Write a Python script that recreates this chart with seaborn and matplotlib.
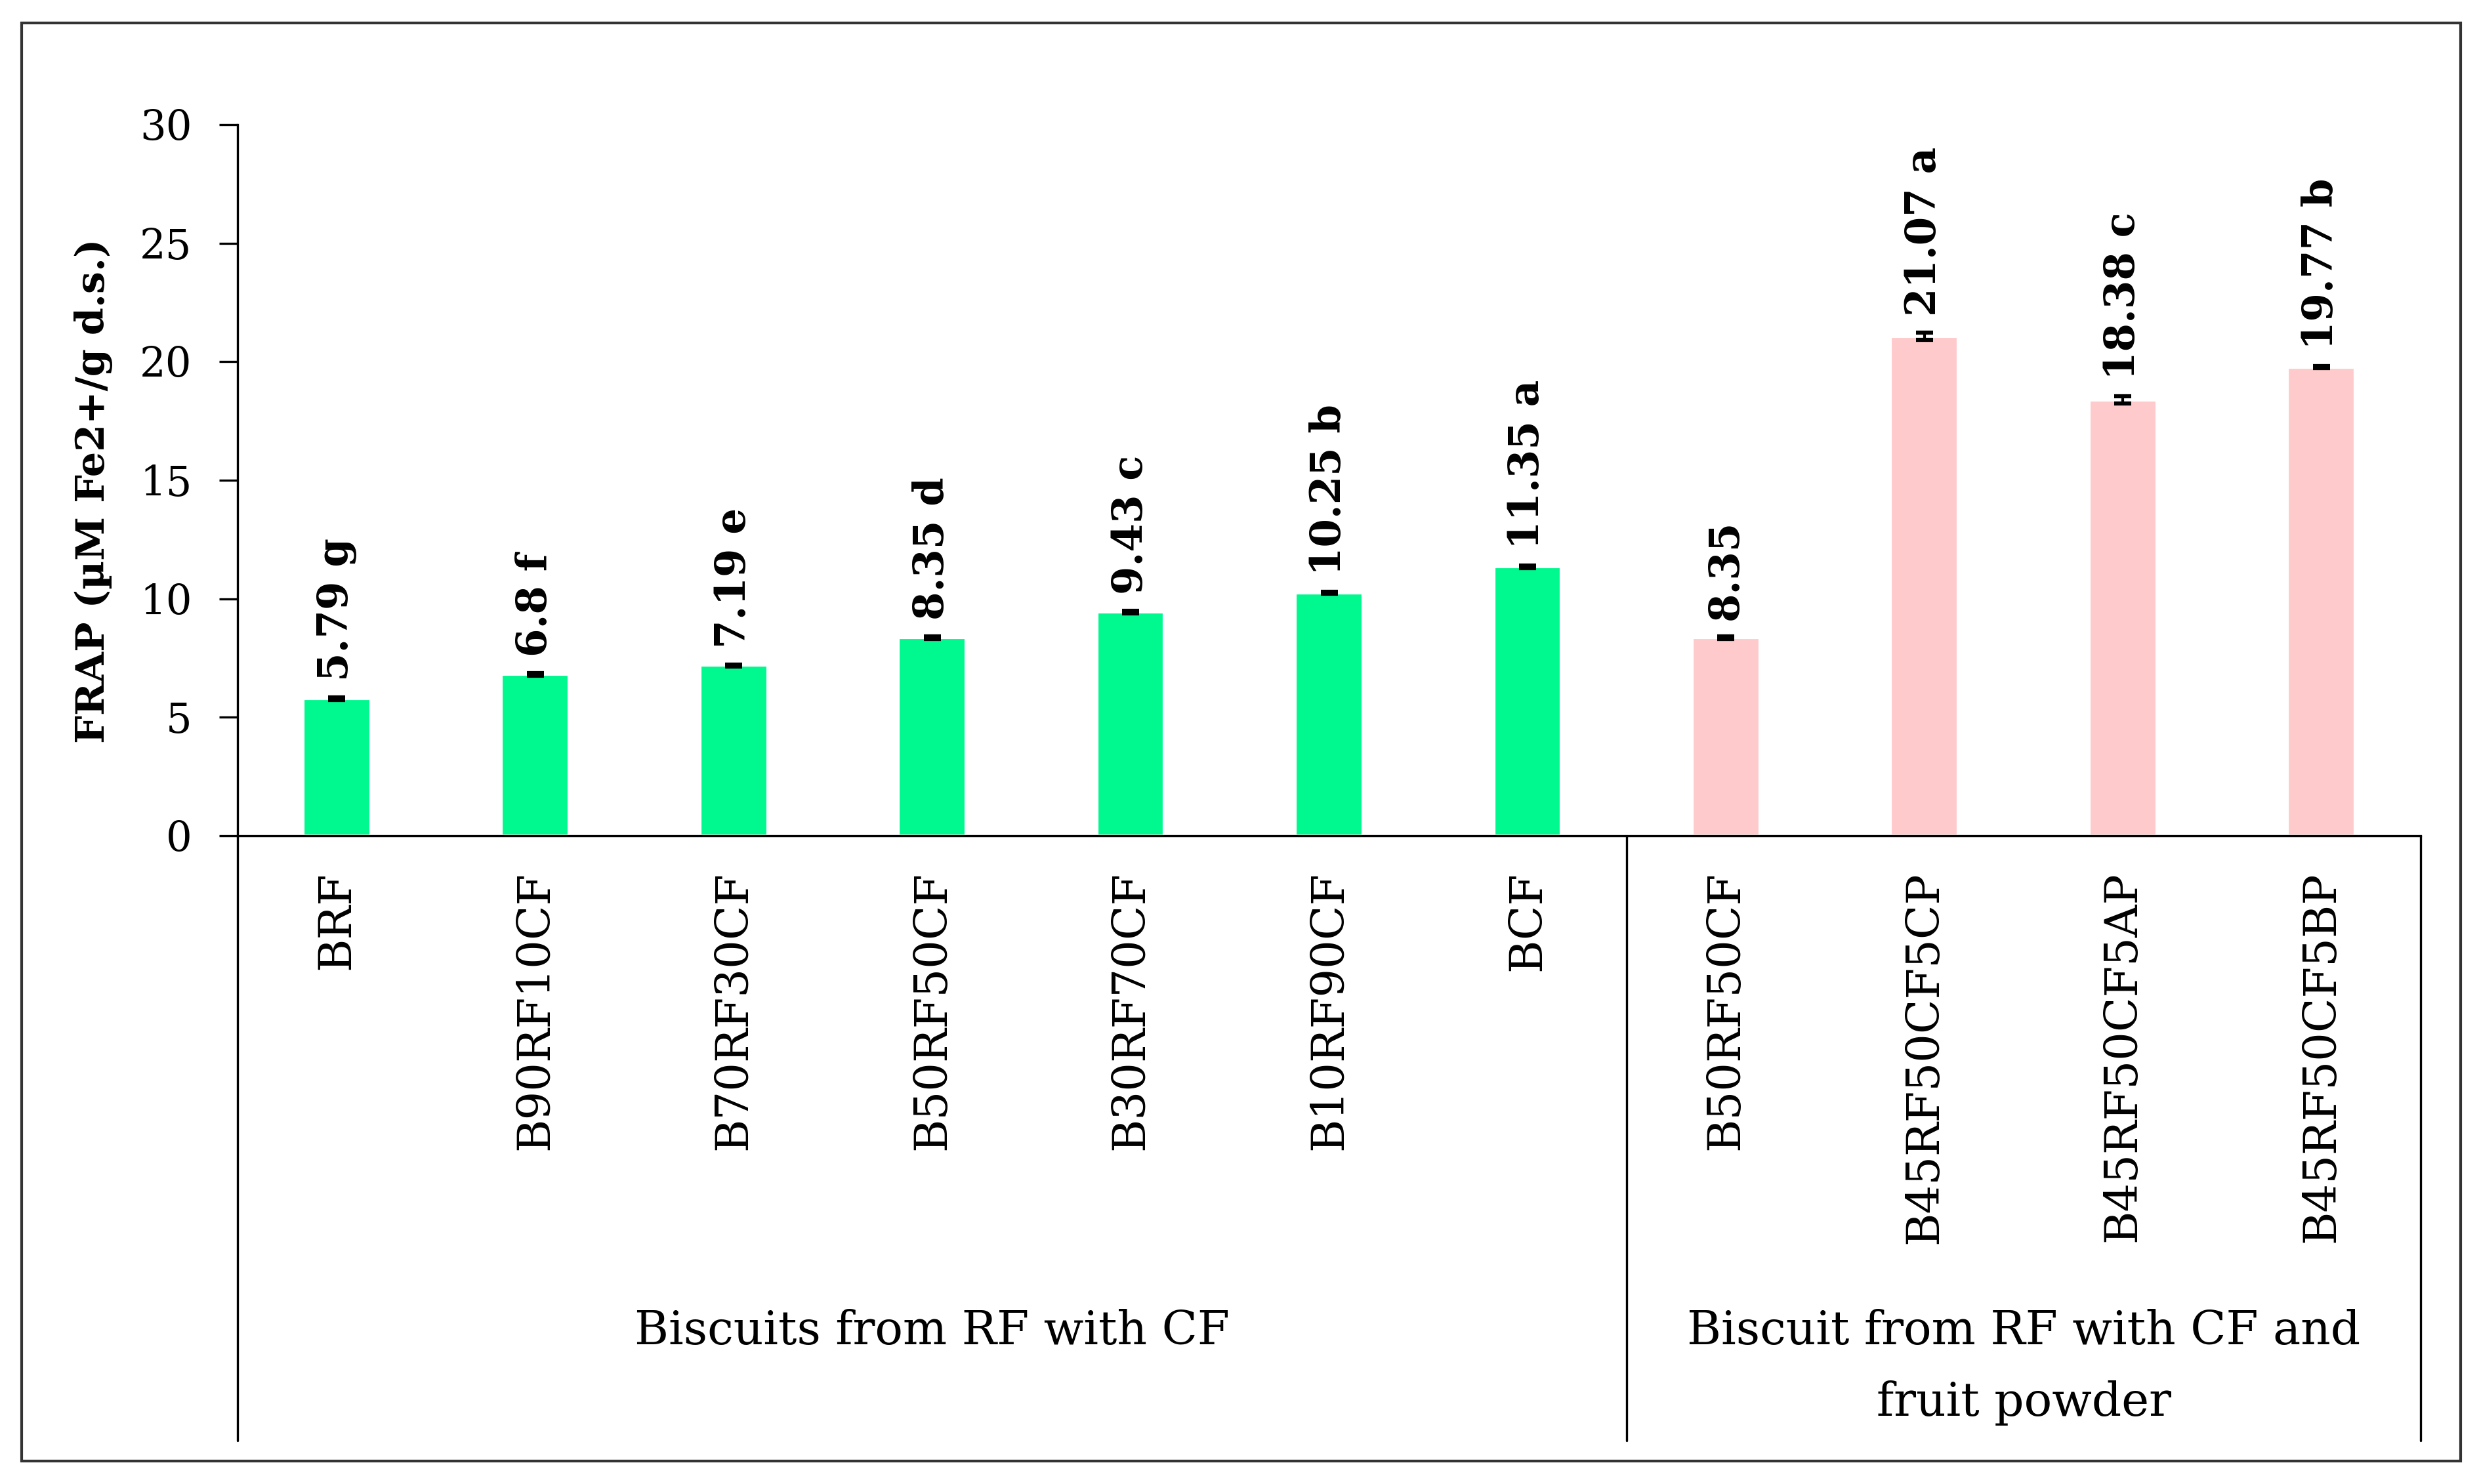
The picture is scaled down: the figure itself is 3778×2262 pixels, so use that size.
import numpy as np
import pandas as pd
import matplotlib
matplotlib.use("Agg")
import matplotlib.pyplot as plt
from matplotlib.patches import Rectangle
import seaborn as sns

# valores
samples = ["BRF", "B90RF10CF", "B70RF30CF", "B50RF50CF", "B30RF70CF", "B10RF90CF", "BCF",
           "B50RF50CF", "B45RF50CF5CP", "B45RF50CF5AP", "B45RF50CF5BP"]
frap = [5.79, 6.8, 7.19, 8.35, 9.43, 10.25, 11.35, 8.35, 21.07, 18.38, 19.77]
frap_err = [0.05, 0.05, 0.04, 0.05, 0.05, 0.05, 0.05, 0.05, 0.15, 0.15, 0.05]
letters = ["g", "f", "e", "d", "c", "b", "a", "", "a", "c", "b"]
groups = ["Biscuits from RF with CF"] * 7 + ["Biscuit from RF with CF and\nfruit powder"] * 4
group_colors = {"Biscuits from RF with CF": "#00F98F",
                "Biscuit from RF with CF and\nfruit powder": "#FFCACB"}

sns.set_style("white")
plt.rcParams["font.family"] = ["DejaVu Serif"]
plt.rcParams["text.color"] = "black"
plt.rcParams["xtick.color"] = "black"
plt.rcParams["ytick.color"] = "black"
plt.rcParams["axes.labelcolor"] = "black"

df = pd.DataFrame({"pos": range(len(samples)), "sample": samples, "frap": frap,
                   "err": frap_err, "group": groups})

W, H = 3779, 2262
fig = plt.figure(figsize=(W / 300, H / 300), dpi=300)
ax = fig.add_axes([362 / W, 1 - 1274 / H, (3689 - 362) / W, (1274 - 190) / H])

sns.barplot(data=df, x="pos", y="frap", hue="group", palette=group_colors, saturation=1,
            dodge=False, width=0.34, errorbar=None, legend=False, ax=ax)
ax.errorbar(df["pos"], df["frap"], yerr=df["err"], fmt="none", ecolor="black",
            elinewidth=1, capsize=3.2, capthick=1.5)

# etiquetas de valores
for p, v, e, l in zip(df["pos"], frap, frap_err, letters):
    txt = f"{v:g} {l}".strip()
    ax.annotate(txt, (p, v + e), xytext=(0, 6), textcoords="offset points",
                rotation=90, ha="center", va="bottom", fontsize=15, fontweight="bold")

ax.set_xlim(-0.5, len(samples) - 0.5)
ax.set_ylim(0, 30)
ax.set_yticks(np.arange(0, 31, 5))
ax.set_xticks(df["pos"], samples, rotation=90, fontsize=16.5)
ax.tick_params(axis="x", length=0, pad=13)
ax.tick_params(axis="y", direction="out", length=6.7, width=0.8, pad=10, labelsize=15, left=True)
ax.set_xlabel("")
ax.set_ylabel("FRAP (µM Fe2+/g d.s.)", fontsize=14.5, fontweight="bold")
ax.yaxis.set_label_coords(-0.057, 0.485)

for s in ["top", "right"]:
    ax.spines[s].set_visible(False)
for s in ["left", "bottom"]:
    ax.spines[s].set_color("black")
    ax.spines[s].set_linewidth(0.8)

# eje de categorias multinivel
trans = ax.get_xaxis_transform()
bounds = [-0.5]
names = []
for g in dict.fromkeys(groups):
    idx = df.index[df["group"] == g]
    bounds.append(idx.max() + 0.5)
    names.append((g, idx.values.mean()))
for b in bounds:
    ax.plot([b, b], [0, -0.8506], transform=trans, clip_on=False, color="black", lw=0.8)
for g, cx in names:
    ax.text(cx, -0.665, g, transform=trans, ha="center", va="top", fontsize=17, linespacing=1.75)

fig.patches.append(Rectangle((33 / W, 1 - 2227 / H), (3750 - 33) / W, (2227 - 35) / H,
                             transform=fig.transFigure, fill=False, lw=1.0, ec="#333333"))

fig.savefig("out.png", dpi=300, facecolor="white")
